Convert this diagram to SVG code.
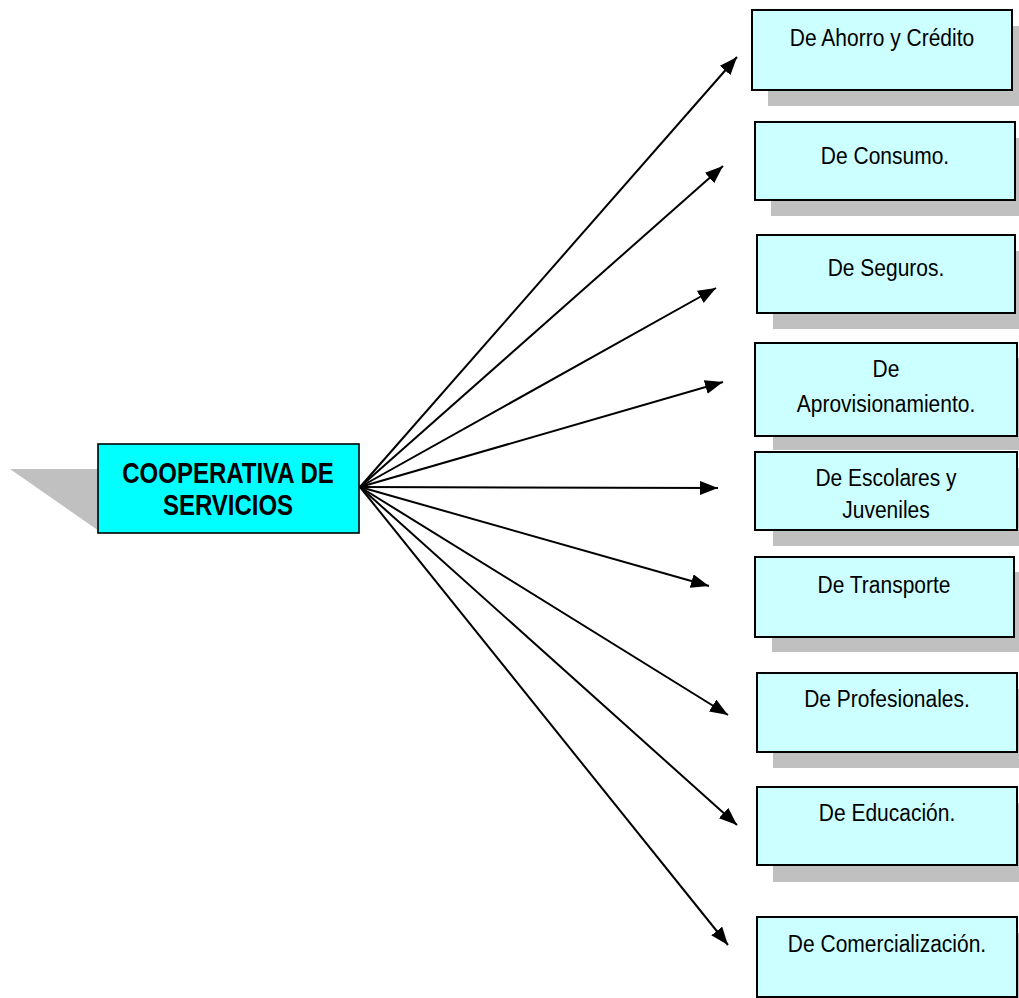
<svg xmlns="http://www.w3.org/2000/svg" width="1019" height="998" viewBox="0 0 1019 998">
  <style>
    .shadow { fill: #c0c0c0; }
    .box { fill: #ccffff; stroke: #000; stroke-width: 2; }
    .main { fill: #00ffff; stroke: #000; stroke-width: 1.6; }
    .lbl { font-family: "Liberation Sans", Arial, sans-serif; font-size: 21px; fill: #000; text-anchor: middle; }
    .title { font-family: "Liberation Sans", Arial, sans-serif; font-size: 24px; font-weight: bold; fill: #000; text-anchor: middle; }
    .conn { stroke: #000; stroke-width: 2; fill: none; marker-end: url(#head); }
  </style>
  <defs>
    <marker id="head" markerUnits="userSpaceOnUse" markerWidth="19" markerHeight="15" refX="18" refY="7" orient="auto">
      <path d="M0,0 L18,7 L0,14 z" fill="#000"/>
    </marker>
  </defs>

  <!-- central node -->
  <g id="node-cooperativa">
    <polygon class="shadow" points="10,469 99,469 99,531"/>
    <rect class="main" x="98" y="444" width="261" height="89"/>
    <g transform="translate(228,0) scale(1,1.22)">
      <text class="title" x="0" y="396">COOPERATIVA DE</text>
      <text class="title" x="0" y="422">SERVICIOS</text>
    </g>
  </g>

  <!-- connectors -->
  <g id="connectors">
    <line class="conn" x1="360" y1="487" x2="737" y2="57"/>
    <line class="conn" x1="360" y1="487" x2="723" y2="166"/>
    <line class="conn" x1="360" y1="487" x2="716" y2="288"/>
    <line class="conn" x1="360" y1="487" x2="723" y2="382"/>
    <line class="conn" x1="360" y1="487" x2="718" y2="488"/>
    <line class="conn" x1="360" y1="487" x2="709" y2="586"/>
    <line class="conn" x1="360" y1="487" x2="728" y2="715"/>
    <line class="conn" x1="360" y1="487" x2="737" y2="825"/>
    <line class="conn" x1="360" y1="487" x2="728" y2="945"/>
  </g>

  <!-- outer nodes: label groups are stretched vertically about their baseline -->
  <g id="node-ahorro">
    <rect class="shadow" x="768" y="26" width="260" height="80"/>
    <rect class="box" x="752" y="10" width="260" height="80"/>
    <text class="lbl" transform="translate(882,46) scale(1,1.12)">De Ahorro y Crédito</text>
  </g>

  <g id="node-consumo">
    <rect class="shadow" x="771" y="138" width="260" height="78"/>
    <rect class="box" x="755" y="122" width="260" height="78"/>
    <text class="lbl" transform="translate(885,164) scale(1,1.12)">De Consumo.</text>
  </g>

  <g id="node-seguros">
    <rect class="shadow" x="773" y="251" width="258" height="78"/>
    <rect class="box" x="757" y="235" width="258" height="78"/>
    <text class="lbl" transform="translate(886,276) scale(1,1.12)">De Seguros.</text>
  </g>

  <g id="node-aprovisionamiento">
    <rect class="shadow" x="773" y="358" width="262" height="92"/>
    <rect class="box" x="755" y="343" width="262" height="93"/>
    <text class="lbl" transform="translate(886,377) scale(1,1.12)">De</text>
    <text class="lbl" transform="translate(886,412) scale(1,1.12)">Aprovisionamiento.</text>
  </g>

  <g id="node-escolares">
    <rect class="shadow" x="773" y="468" width="262" height="78"/>
    <rect class="box" x="755" y="452" width="262" height="78"/>
    <text class="lbl" transform="translate(886,486) scale(1,1.12)">De Escolares y</text>
    <text class="lbl" transform="translate(886,518) scale(1,1.12)">Juveniles</text>
  </g>

  <g id="node-transporte">
    <rect class="shadow" x="772" y="572" width="262" height="80"/>
    <rect class="box" x="755" y="557" width="259" height="80"/>
    <text class="lbl" transform="translate(884,593) scale(1,1.12)">De Transporte</text>
  </g>

  <g id="node-profesionales">
    <rect class="shadow" x="773" y="689" width="262" height="79"/>
    <rect class="box" x="757" y="673" width="260" height="79"/>
    <text class="lbl" transform="translate(887,707) scale(1,1.12)">De Profesionales.</text>
  </g>

  <g id="node-educacion">
    <rect class="shadow" x="773" y="803" width="262" height="79"/>
    <rect class="box" x="757" y="787" width="260" height="78"/>
    <text class="lbl" transform="translate(887,821) scale(1,1.12)">De Educación.</text>
  </g>

  <g id="node-comercializacion">
    <rect class="shadow" x="773" y="933" width="262" height="80"/>
    <rect class="box" x="757" y="917" width="260" height="80"/>
    <text class="lbl" transform="translate(887,952) scale(1,1.12)">De Comercialización.</text>
  </g>
</svg>
